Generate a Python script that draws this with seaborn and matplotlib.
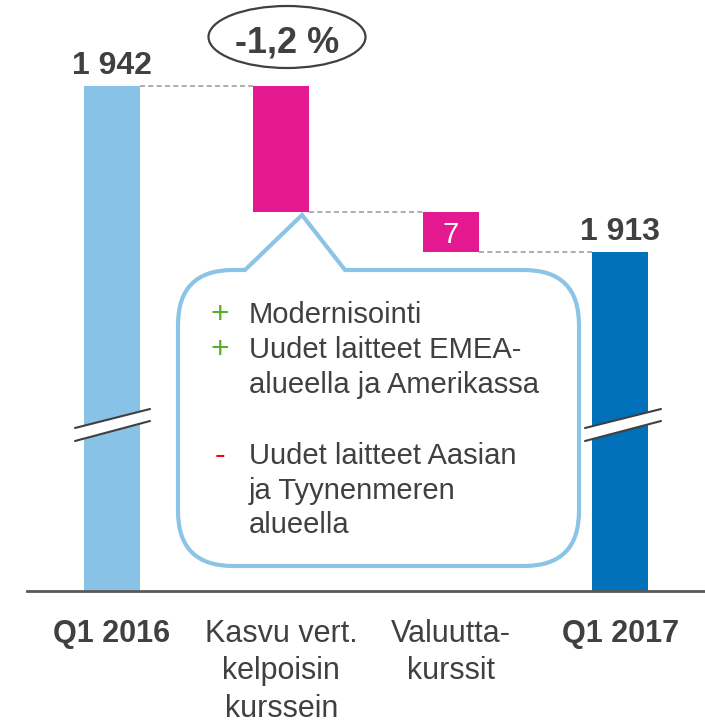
import matplotlib
matplotlib.use("Agg")
import matplotlib.pyplot as plt
import seaborn as sns
import pandas as pd
from matplotlib.path import Path
from matplotlib.patches import PathPatch, Ellipse, Polygon

# ---- data ----
categories = ["Q1 2016", "Kasvu vert.\nkelpoisin\nkurssein", "Valuutta-\nkurssit", "Q1 2017"]
start_value = 1942
changes = [-22, -7]
end_value = 1913
value_labels = ["1 942", "", "7", "1 913"]
growth_label = "-1,2 %"
callout_signs = ["+", "+", "", "-", "", ""]
callout_lines = ["Modernisointi", "Uudet laitteet EMEA-", "alueella ja Amerikassa",
                 "Uudet laitteet Aasian", "ja Tyynenmeren", "alueella"]

sns.set_style("white")
plt.rcParams["font.family"] = ["Liberation Sans", "DejaVu Sans"]

TXT = "#404040"
level1 = start_value + changes[0]
level2 = level1 + changes[1]
heights = [start_value, changes[0], changes[1], end_value]
bottoms = [0, start_value, level1, 0]
colors = ["#88C2E6", "#E4198F", "#E4198F", "#0071B9"]

df = pd.DataFrame({"cat": categories, "h": heights})

W, H = 705, 725
fig = plt.figure(figsize=(W / 100, H / 100), dpi=100)
ax = fig.add_axes([27 / W, 1 - 591 / H, 1 - 27 / W, 591 / H])
sns.barplot(data=df, x="cat", y="h", bottom=bottoms, width=0.33, color=colors[0],
            saturation=1, errorbar=None, ax=ax)
for p, c in zip(ax.patches, colors):
    p.set_facecolor(c)
    p.set_edgecolor("none")

ax.set_xlim(-0.5, 3.5)
ax.set_ylim(1854, 1957)

# connectors
conn_levels = [start_value, level1, level2]
for i, lv in enumerate(conn_levels):
    ax.plot([i + 0.165, i + 1 - 0.165], [lv, lv], color="#A0A0A0", lw=1.2,
            ls=(0, (3, 2)), zorder=1)

# value labels
ax.annotate(value_labels[0], xy=(0, start_value), xytext=(0, 9), textcoords="offset points",
            ha="center", va="baseline", fontsize=23, fontweight="bold", color=TXT)
ax.annotate(value_labels[3], xy=(3, end_value), xytext=(0, 9), textcoords="offset points",
            ha="center", va="baseline", fontsize=23, fontweight="bold", color=TXT)
ax.text(2, level1 + changes[1] / 2, value_labels[2], ha="center", va="center_baseline",
        fontsize=21, color="white")

# axes styling
for s in ["left", "right", "top"]:
    ax.spines[s].set_visible(False)
ax.spines["bottom"].set_color("#595959")
ax.spines["bottom"].set_linewidth(2)
ax.set_yticks([])
ax.set_xlabel("")
ax.set_ylabel("")
ax.tick_params(axis="x", length=0, pad=20, labelsize=22, labelcolor=TXT)
for lbl in ax.get_xticklabels():
    lbl.set_linespacing(1.33)
    if lbl.get_text().startswith("Q1"):
        lbl.set_fontweight("bold")

# ---- overlay decorations (pixel coords) ----
ov = fig.add_axes([0, 0, 1, 1], zorder=5)
ov.set_xlim(0, W)
ov.set_ylim(H, 0)
ov.axis("off")
ov.patch.set_alpha(0)

# growth ellipse
ov.add_patch(Ellipse((287, 37), 157, 62, fill=False, edgecolor=TXT, lw=1.6))
ov.text(287, 52, growth_label, ha="center", va="baseline", fontsize=26,
        fontweight="bold", color=TXT)

# break marks
for x0, x1 in [(75, 150), (585, 661)]:
    ov.add_patch(Polygon([(x0, 428), (x1, 409), (x1, 421), (x0, 441)], closed=True,
                         facecolor="white", edgecolor="none"))
    ov.plot([x0, x1], [428, 409], color=TXT, lw=1.5)
    ov.plot([x0, x1], [441, 421], color=TXT, lw=1.5)

# callout bubble
L, R, T, B, r = 178, 579, 270, 566, 55
verts = [(L + r, T), (245, T), (302, 215), (345, T), (R - r, T),
         (R, T), (R, T + r),
         (R, B - r),
         (R, B), (R - r, B),
         (L + r, B),
         (L, B), (L, B - r),
         (L, T + r),
         (L, T), (L + r, T), (L + r, T)]
codes = [Path.MOVETO, Path.LINETO, Path.LINETO, Path.LINETO, Path.LINETO,
         Path.CURVE3, Path.CURVE3,
         Path.LINETO,
         Path.CURVE3, Path.CURVE3,
         Path.LINETO,
         Path.CURVE3, Path.CURVE3,
         Path.LINETO,
         Path.CURVE3, Path.CURVE3, Path.CLOSEPOLY]
ov.add_patch(PathPatch(Path(verts, codes), facecolor="white", edgecolor="#8CC4E6",
                       lw=3, joinstyle="miter"))

baselines = [323, 358, 393, 464, 499, 533]
sign_colors = {"+": "#5AAE2A", "-": "#FF0000"}
for sign, line, yb in zip(callout_signs, callout_lines, baselines):
    if sign:
        ov.text(220, yb, sign, ha="center", va="baseline", fontsize=23,
                color=sign_colors[sign])
    ov.text(249, yb, line, ha="left", va="baseline", fontsize=21, color=TXT)

fig.savefig("out.png", dpi=100)
